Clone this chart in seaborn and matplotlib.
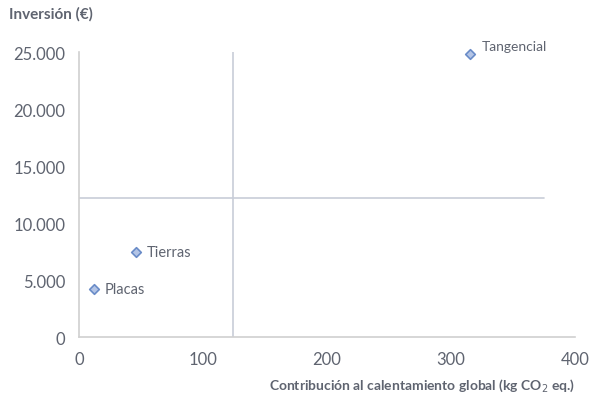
import pandas as pd
import matplotlib
matplotlib.use("Agg")
import matplotlib.pyplot as plt
import seaborn as sns

# data
labels = ["Placas", "Tierras", "Tangencial"]
co2 = [12, 46, 315]
inversion = [4200, 7500, 24800]

x_ticks = [0, 100, 200, 300, 400]
y_ticks = [0, 5000, 10000, 15000, 20000, 25000]

sns.set_style("white")
plt.rcParams['font.family'] = ['Lato', 'DejaVu Sans']

df = pd.DataFrame({"label": labels, "co2": co2, "inv": inversion})

grey = "#5f6470"
line_col = "#c8cdd8"

fig = plt.figure(figsize=(5.94, 4.06), dpi=100)
ax = fig.add_axes([0.133, 0.167, 0.835, 0.702])

# mean lines (quadrants)
mx = df["co2"].mean()
my = df["inv"].mean()
ax.plot([mx, mx], [0, 25000], color=line_col, lw=1.2, zorder=1)
ax.plot([0, 375], [my, my], color=line_col, lw=1.2, zorder=1)

sns.scatterplot(data=df, x="co2", y="inv", marker="D", s=24,
                color="#b3c4e6", edgecolor="#6a8cc8", linewidth=1.2,
                ax=ax, zorder=3, clip_on=False)

for _, r in df.iterrows():
    if r["label"] == "Tangencial":
        ax.annotate(r["label"], (r["co2"], r["inv"]), xytext=(9, 6),
                    textcoords="offset points", fontsize=10, color=grey, va="center")
    else:
        ax.annotate(r["label"], (r["co2"], r["inv"]), xytext=(8, 0),
                    textcoords="offset points", fontsize=10.5, color=grey, va="center")

ax.set_xlim(0, 400)
ax.set_ylim(0, 25000)
ax.set_xticks(x_ticks)
ax.set_yticks(y_ticks)
ax.set_yticklabels([f"{v:,}".replace(",", ".") for v in y_ticks])
ax.tick_params(axis="both", colors="#c8c8c8", labelcolor=grey, labelsize=12,
               length=4, width=1, direction="out", pad=6)

sns.despine(ax=ax)
for s in ["left", "bottom"]:
    ax.spines[s].set_color("#d0d0d0")
    ax.spines[s].set_linewidth(1.2)

ax.set_xlabel("")
ax.set_ylabel("")
fig.text(0.968, 0.05, "Contribución al calentamiento global (kg CO$_2$ eq.)",
         ha="right", va="center", fontsize=10, fontweight="bold", color=grey)
fig.text(0.015, 0.965, "Inversión (€)", ha="left", va="center",
         fontsize=11, fontweight="bold", color=grey)

fig.savefig("out.png", dpi=100)
